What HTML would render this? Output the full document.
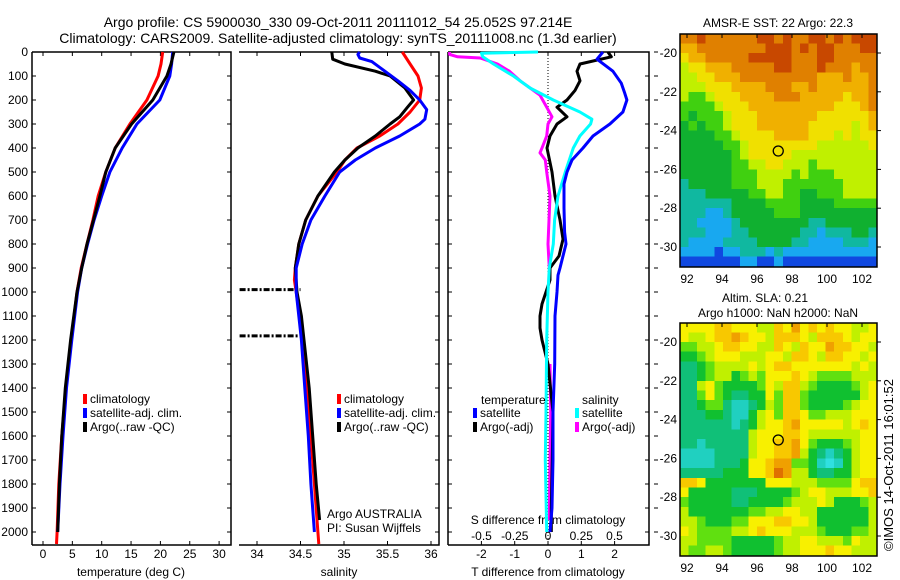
<!DOCTYPE html>
<html><head><meta charset="utf-8">
<style>
html,body{margin:0;padding:0;background:#fff;}
svg{display:block;font-family:"Liberation Sans",sans-serif;}
text{font-size:12px;fill:#000;}
</style></head>
<body>
<svg id="fig" width="900" height="580" viewBox="0 0 900 580" xmlns="http://www.w3.org/2000/svg">
<text x="338" y="27" text-anchor="middle" style="font-size:14px">Argo profile: CS 5900030_330 09-Oct-2011 20111012_54 25.052S 97.214E</text>
<text x="338" y="43" text-anchor="middle" style="font-size:14px">Climatology: CARS2009. Satellite-adjusted climatology: synTS_20111008.nc (1.3d earlier)</text>
<g id="p1"></g>
<g id="p2"></g>
<g id="p3"></g>
<g id="m1"></g>
<g id="m2"></g>
<text transform="translate(893,465) rotate(-90)" text-anchor="middle" style="font-size:13px">©IMOS 14-Oct-2011 16:01:52</text>
</svg>
<script>
// ---- profile data ----
const tDepth = [0,50,100,200,300,400,500,600,700,800,900,1000,1200,1400,1600,1800,2000,2050];
const tClim  = [20.4,20.1,19.6,17.7,14.8,12.3,10.7,9.4,8.5,7.5,6.5,5.8,4.8,3.9,3.2,2.7,2.4,2.3];
const tSat   = [22.1,21.9,21.6,19.9,16.0,13.5,11.4,10.0,8.7,7.6,6.6,5.9,4.9,4.0,3.4,2.9,2.5];
const tArgo  = [22.3,21.8,21.1,18.7,15.1,12.3,10.7,9.7,8.6,7.5,6.6,5.8,4.7,3.8,3.2,2.8,2.5];
const sDepth = [0,50,100,150,200,250,300,350,400,450,500,600,700,800,900,950,1000,1100,1200,1400,1600,1800,2000,2050];
const sClim  = [35.67,35.76,35.85,35.89,35.87,35.76,35.62,35.41,35.15,35.01,34.92,34.70,34.56,34.48,34.44,34.43,34.45,34.49,34.53,34.57,34.62,34.66,34.70,34.71];
const sSatDepth = [0,10,25,40,80,120,160,200,240,280,300,350,400,450,500,600,700,800,900,1000,1200,1400,1600,1800,2000];
const sSat   = [35.18,35.16,35.18,35.32,35.47,35.62,35.76,35.87,35.95,35.93,35.87,35.64,35.36,35.13,34.95,34.78,34.62,34.52,34.45,34.45,34.51,34.55,34.59,34.62,34.66];
const sArgoDepth = [0,30,50,80,100,150,200,230,270,300,350,400,450,500,600,700,800,900,1000,1100,1200,1400,1600,1800,1950];
const sArgo  = [34.86,34.87,35.01,35.36,35.53,35.70,35.80,35.73,35.64,35.53,35.36,35.16,35.01,34.89,34.70,34.56,34.48,34.44,34.46,34.51,34.54,34.60,34.64,34.68,34.72];
const spikeDepth = [990,1183];
const spikeSal = [33.80,33.80];
// difference panel
const dTDepth = [0,30,80,130,170,200,250,300,350,400,450,500,550,650,750,800,900,930,1000,1100,1300,1500,1700,1900,2000];
const dTSat   = [1.65,1.47,1.95,2.2,2.3,2.37,2.25,1.86,1.35,1.05,0.72,0.57,0.48,0.48,0.5,0.54,0.36,0.3,0.27,0.21,0.2,0.15,0.15,0.12,0.06];
const dTArgoDepth = [0,20,50,80,120,160,200,230,270,300,350,400,500,600,700,780,850,900,950,1000,1050,1100,1150,1200,1250,1300,1500,1700,1900,2000];
const dTArgo  = [1.8,1.9,0.96,0.87,0.96,0.81,0.57,0.27,0.57,0.27,0.06,-0.03,0.12,0.21,0.36,0.45,0.33,0.06,0.06,-0.06,-0.18,-0.24,-0.24,-0.18,-0.09,0,0.15,0.13,0.1,0.1];
const dSSatDepth = [0,5,20,50,100,150,200,250,280,300,350,400,500,600,700,800,900,1000,1200,1500,1700,2000];
const dSSat   = [-0.075,-0.5,-0.49,-0.41,-0.26,-0.135,0.04,0.24,0.33,0.32,0.24,0.19,0.13,0.075,0.05,0.04,0.01,0,-0.01,-0.015,-0.02,-0.01];
const dSArgoDepth = [0,10,20,25,50,80,120,160,180,200,230,270,300,350,400,420,450,500,600,800,900,1000,1300,1500,1700,1950];
const dSArgo  = [-0.74,-0.74,-0.68,-0.51,-0.38,-0.29,-0.21,-0.11,-0.06,-0.04,-0.01,0.03,0,-0.01,-0.045,-0.06,-0.02,-0.01,0.015,0,0.01,null,0.015,0.02,0.015,0.01];
// tick labels
const depthTicks = [0,100,200,300,400,500,600,700,800,900,1000,1100,1200,1300,1400,1500,1600,1700,1800,1900,2000];
const tTicks = [0,5,10,15,20,25,30];
const sTicks = [34,34.5,35,35.5,36];
const dTTicks = [-2,-1,0,1,2];
const dSTicks = [-0.5,-0.25,0,0.25,0.5];
const dSTickLabels = ["-0.5","-0.25","0","0.25","0.5"];
const lonTicks = [92,94,96,98,100,102];
const latTicks = [-20,-22,-24,-26,-28,-30];
// map grids (rows from -19 to -31 lat, 0.5 deg; cols 91.6E to 102.9E)
const sstRows = [
"99a999999aa9a99aa9a9aaa","8899999999aaa9a9aa999aa","78899999aaaaa999aa99999","67788899999aa999a999899",
"66778889999999998889889","66677788889998898888889","65567778888999888887889","55556777888888888877789",
"54555677788888887777778","45455677788888877777678","44445567777888877767677","44444556777777776666667",
"44444456777776666666666","44444455667766656666666","44444455566665655566666","34444455566655555556666",
"33344444556655445556666","33333344445555444455555","33322344444555444444444","33222234444444433444444",
"33322233444444332333443","32222333344443322223332","22221223332322222222222","11111112211211111111111"];
const slaRows = [
"77778877766879787877667","76678898776888768887677","55667887766876877988776","44567776667768876887767",
"33456666767887777777676","33456645657778765555666","33675444457688654444567","33575433447588544444467",
"33455322346588544445677","33344322467588755666777","33333323467789777776787","33333333677788766666677",
"33233333677889754445677","22223333677889643234677","22223334778995542124677","33333444778a96643344677",
"88744444447776665555788","74444433344445677666778","54444433444456667644456","64444444556677664444446",
"66544455777887764444446","76555566787776665444556","66555544444566776665766","65566544444566777877666"];
const argoLon = 97.214, argoLat = -25.052;

const NS="http://www.w3.org/2000/svg";
function mk(parent,tag,attrs){const e=document.createElementNS(NS,tag);for(const k in attrs)e.setAttribute(k,attrs[k]);parent.appendChild(e);return e;}
const Y0=52, YS=0.24, YB=545;
const yD = d => Y0 + d*YS;
function pathFrom(xs,ds,fx){let s="",pen=false;for(let i=0;i<xs.length;i++){if(xs[i]===null){pen=false;continue;}s+=(pen?"L":"M")+fx(xs[i]).toFixed(1)+","+yD(ds[i]).toFixed(1);pen=true;}return s;}
function line(g,xs,ds,fx,color,name,w){const p=mk(g,"path",{d:pathFrom(xs,ds,fx),fill:"none",stroke:color,"stroke-width":w||3,"stroke-linejoin":"round"});


return p;}
function frame(g,x0,x1,leftLine,labels){
  const f=mk(g,"path",{d:(leftLine?`M${x0},${Y0}V${YB}`:"")+`M${x0},${Y0}H${x1}V${YB}H${x0}`,fill:"none",stroke:"#000","stroke-width":1.5});
  
  
  depthTicks.forEach(d=>{
    if(leftLine){const t=mk(g,"line",{x1:x0,x2:x0+4,y1:yD(d),y2:yD(d),stroke:"#000"});
    
    }
    const t2=mk(g,"line",{x1:x1,x2:x1-4,y1:yD(d),y2:yD(d),stroke:"#000"});
    
    
    if(labels){const l=mk(g,"text",{x:x0-4,y:yD(d)+4,"text-anchor":"end"});l.textContent=d;
    
    }
  });
}
function xticks(g,vals,labs,fx,yl,top){
  vals.forEach((v,i)=>{const x=fx(v);
    const t=mk(g,"line",{x1:x,x2:x,y1:YB,y2:YB-4,stroke:"#000"});
    
    
    if(top){const t2=mk(g,"line",{x1:x,x2:x,y1:Y0,y2:Y0+4,stroke:"#000"});
    
    }
    if(labs){const l=mk(g,"text",{x:x,y:yl,"text-anchor":"middle"});l.textContent=labs[i];
    
    }
  });
}
function txt(g,x,y,s,name,anchor){const t=mk(g,"text",{x:x,y:y,"text-anchor":anchor||"start"});t.textContent=s;

return t;}
function legend(g,x,y,color,label,name){const r=mk(g,"rect",{x:x,y:y-9,width:4,height:10,fill:color});


txt(g,x+7,y,label,name);}

// Panel 1: temperature
const p1=document.getElementById("p1");
const fT = v => 43 + v*5.87;
frame(p1,32,231,true,true);
xticks(p1,tTicks,tTicks,fT,558,true);
txt(p1,131,576,"temperature (deg C)","temperature-axis-title","middle");
line(p1,tClim,tDepth,fT,"#ff0000","temp-climatology-line");
line(p1,tSat,tDepth.slice(0,tSat.length),fT,"#0000ff","temp-satellite-line");
line(p1,tArgo,tDepth.slice(0,tArgo.length),fT,"#000000","temp-argo-line");
legend(p1,83,403,"#ff0000","climatology","legend-climatology");
legend(p1,83,417,"#0000ff","satellite-adj. clim.","legend-satellite");
legend(p1,83,431,"#000000","Argo(..raw -QC)","legend-argo");

// Panel 2: salinity
const p2=document.getElementById("p2");
const fS = v => 257 + (v-34)*87;
frame(p2,239,439,false,false);
xticks(p2,sTicks,sTicks,fS,558,true);
txt(p2,339,576,"salinity","salinity-axis-title","middle");
spikeDepth.forEach((d,i)=>{const s=mk(p2,"line",{x1:fS(spikeSal[i]),x2:fS(34.5),y1:yD(d),y2:yD(d),stroke:"#000","stroke-width":3,"stroke-dasharray":"6,2,2,2"});

});
line(p2,sClim,sDepth,fS,"#ff0000","sal-climatology-line");
line(p2,sArgo,sArgoDepth,fS,"#000000","sal-argo-line");
line(p2,sSat,sSatDepth,fS,"#0000ff","sal-satellite-line");
legend(p2,337,403,"#ff0000","climatology","legend-climatology");
legend(p2,337,417,"#0000ff","satellite-adj. clim.","legend-satellite");
legend(p2,337,431,"#000000","Argo(..raw -QC)","legend-argo");
txt(p2,327,518,"Argo AUSTRALIA","operator-label");
txt(p2,327,532,"PI: Susan Wijffels","pi-label");

// Panel 3: differences
const p3=document.getElementById("p3");
const fDT = v => 548 + v*33.3;
const fDS = v => 548 + v*133;
frame(p3,448,649,true,false);
depthTicks.forEach(d=>{const t=mk(p3,"line",{x1:654,x2:658,y1:yD(d),y2:yD(d),stroke:"#000"});

});
xticks(p3,dTTicks,dTTicks,fDT,558,true);
const zl=mk(p3,"line",{x1:fDT(0),x2:fDT(0),y1:Y0,y2:YB,stroke:"#000","stroke-dasharray":"1,2"});


dSTicks.forEach((v,i)=>{txt(p3,fDS(v),540,dSTickLabels[i],"s-diff-tick-label","middle");});
txt(p3,548,524,"S difference from climatology","s-diff-axis-title","middle");
txt(p3,548,576,"T difference from climatology","t-diff-axis-title","middle");
line(p3,dSArgo,dSArgoDepth,fDS,"#ff00ff","sal-diff-argo-line");
line(p3,dTArgo,dTArgoDepth,fDT,"#000000","temp-diff-argo-line");
line(p3,dSSat,dSSatDepth,fDS,"#00ffff","sal-diff-satellite-line");
line(p3,dTSat,dTDepth,fDT,"#0000ff","temp-diff-satellite-line");
txt(p3,481,404,"temperature","legend-temperature-heading");
legend(p3,473,417,"#0000ff","satellite","legend-temp-satellite");
legend(p3,473,431,"#000000","Argo(-adj)","legend-temp-argo");
txt(p3,582,404,"salinity","legend-salinity-heading");
legend(p3,575,417,"#00ffff","satellite","legend-sal-satellite");
legend(p3,575,431,"#ff00ff","Argo(-adj)","legend-sal-argo");

// Maps
const sstPal={"0":"#0a1890","1":"#1048e0","2":"#18a8f0","3":"#10b8a0","4":"#10b030","5":"#40d010","6":"#c0f000","7":"#f0e000","8":"#f0b000","9":"#e08000","a":"#c84800"};
const slaPal={"0":"#40e8f0","1":"#30e0e0","2":"#20d0c0","3":"#10c078","4":"#10c030","5":"#60e010","6":"#c0f000","7":"#f8f000","8":"#f8c800","9":"#f0a000","a":"#e07000"};
function drawMap(g,top,rows,pal,titles){
  const left=680,right=877,bottom=top+233;
  const fx = lon => 687 + (lon-92)*17.5;
  const fy = lat => (top+19) + (-20-lat)*19.4;
  const lon0=91.6, dLon=(102.86-91.6)/23, lat0=-19.0, dLat=0.5;
  rows.forEach((row,r)=>{for(let c=0;c<row.length;c++){
    const x=fx(lon0+c*dLon), y=fy(lat0-r*dLat);
    const cell=mk(g,"rect",{x:x.toFixed(2),y:y.toFixed(2),width:(dLon*17.5+0.5).toFixed(2),height:(dLat*19.4+0.5).toFixed(2),fill:pal[row[c]],"shape-rendering":"crispEdges"});
    
    
  }});
  const b=mk(g,"rect",{x:left,y:top,width:right-left,height:bottom-top,fill:"none",stroke:"#000","stroke-width":1.5});
  
  
  lonTicks.forEach(v=>{const t=mk(g,"line",{x1:fx(v),x2:fx(v),y1:top,y2:top+4,stroke:"#000"});
    
    
    txt(g,fx(v),bottom+16,String(v),"lon-tick-label","middle");});
  latTicks.forEach(v=>{const t=mk(g,"line",{x1:right,x2:right+4,y1:fy(v),y2:fy(v),stroke:"#000"});
    
    
    txt(g,left-3,fy(v)+4,String(v),"lat-tick-label","end");});
  const c=mk(g,"circle",{cx:fx(argoLon),cy:fy(argoLat),r:5,fill:"none",stroke:"#000","stroke-width":1.3});
  
  
  titles.forEach(t=>txt(g,t[0],t[1],t[2],t[3],"middle"));
}
drawMap(document.getElementById("m1"),34,sstRows,sstPal,[[778,27,"AMSR-E SST: 22 Argo: 22.3","sst-map-title"]]);
drawMap(document.getElementById("m2"),323,slaRows,slaPal,[[765,302,"Altim. SLA: 0.21","sla-map-title"],[778,317,"Argo h1000: NaN h2000: NaN","sla-map-subtitle"]]);
</script>
</body></html>
